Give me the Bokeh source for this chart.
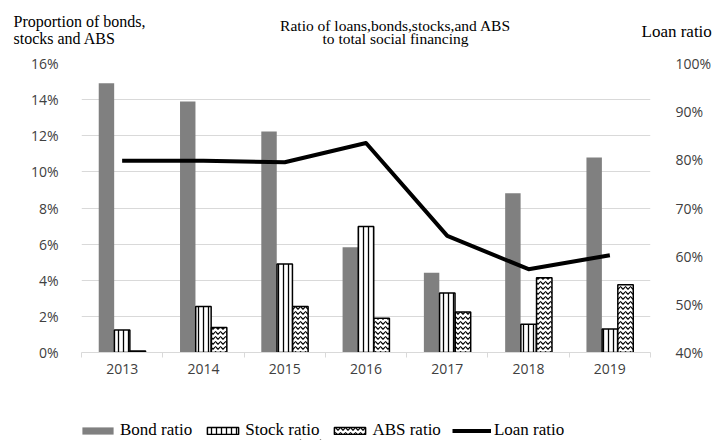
from bokeh.plotting import figure
from bokeh.layouts import column
from bokeh.models import (Range1d, LinearAxis, FixedTicker, NumeralTickFormatter,
                          Legend, LegendItem, Label, ColumnDataSource)
from bokeh.embed import file_html
from bokeh.resources import INLINE

# Shares of total social financing, by year
years = ["2013", "2014", "2015", "2016", "2017", "2018", "2019"]
bond_ratio = [0.149, 0.139, 0.1224, 0.0583, 0.0442, 0.0882, 0.1080]
stock_ratio = [0.0125, 0.0255, 0.0490, 0.0697, 0.0330, 0.0157, 0.0130]
abs_ratio = [0.0008, 0.0139, 0.0254, 0.0189, 0.0224, 0.0414, 0.0375]
loan_ratio = [0.798, 0.798, 0.795, 0.835, 0.642, 0.573, 0.602]

left_ticks = [0.0, 0.02, 0.04, 0.06, 0.08, 0.10, 0.12, 0.14, 0.16]
right_ticks = [0.4, 0.5, 0.6, 0.7, 0.8, 0.9, 1.0]

GRID = "#d9d9d9"
TICK_TEXT = "#404040"
SERIF = "Liberation Serif"
SANS = "Open Sans"

W = 714
H_HEAD, H_MAIN, H_LEGEND = 50, 360, 30

BOND_STYLE = dict(fill_color="#808080", line_color=None)
STOCK_STYLE = dict(fill_color="white", line_color="black", line_width=1.5,
                   hatch_pattern="vertical_line", hatch_color="black",
                   hatch_scale=5, hatch_weight=1.3)
ABS_STYLE = dict(fill_color="white", line_color="black", line_width=1.5,
                 hatch_pattern="horizontal_wave", hatch_color="black",
                 hatch_scale=5, hatch_weight=1.2)
LOAN_STYLE = dict(line_color="black", line_width=4, line_join="round")


def strip(height, y_range):
    """A bare figure whose frame fills its whole canvas."""
    f = figure(width=W, height=height, output_backend="svg", toolbar_location=None,
               x_range=Range1d(0, W), y_range=y_range,
               x_axis_location=None, y_axis_location=None,
               min_border_left=0, min_border_right=0, min_border_top=0,
               min_border_bottom=0, outline_line_color=None, frame_align=False)
    f.xgrid.visible = False
    f.ygrid.visible = False
    return f


# ---- headings ----
head = strip(H_HEAD, Range1d(H_HEAD, 0))


def heading(text, x, y_base, align="left", size="16px"):
    head.add_layout(Label(x=x, y=y_base, text=text, text_align=align,
                          text_baseline="alphabetic", text_font=SERIF,
                          text_font_size=size, text_color="black"))


heading("Proportion of bonds,", 13, 21)
heading("stocks and ABS", 13, 38)
heading("Ratio of loans,bonds,stocks,and ABS", 395, 25, align="center", size="15.5px")
heading("to total social financing", 395, 38, align="center", size="15.5px")
heading("Loan ratio", 641, 31, size="17px")

# ---- main chart ----
centers = [i + 0.5 for i in range(len(years))]
bar_w = 0.19
shift = 0.193

src = ColumnDataSource(dict(
    x=centers, bond=bond_ratio, stock=stock_ratio, abs=abs_ratio, loan=loan_ratio,
    xb=[c - shift for c in centers], xa=[c + shift for c in centers],
))

p = figure(width=W, height=H_MAIN, output_backend="svg", toolbar_location=None,
           x_range=Range1d(0, len(years)), y_range=Range1d(0, 0.16),
           min_border_left=81, min_border_right=63, min_border_top=13,
           min_border_bottom=58, outline_line_color=None, frame_align=False)
p.extra_y_ranges = {"loan": Range1d(0.4, 1.0)}

p.vbar(x="xb", top="bond", width=bar_w, source=src, **BOND_STYLE)
p.vbar(x="x", top="stock", width=bar_w, source=src, **STOCK_STYLE)
p.vbar(x="xa", top="abs", width=bar_w, source=src, **ABS_STYLE)
p.line(x="x", y="loan", source=src, y_range_name="loan", **LOAN_STYLE)

# x axis: year labels at centers, tick marks at the category boundaries
xa = p.xaxis[0]
xa.ticker = FixedTicker(ticks=centers, minor_ticks=list(range(len(years) + 1)))
xa.major_label_overrides = {c: y for c, y in zip(centers, years)}
xa.major_tick_in = 0
xa.major_tick_out = 0
xa.minor_tick_in = 0
xa.minor_tick_out = 5
xa.minor_tick_line_color = GRID
xa.axis_line_color = GRID
xa.major_label_standoff = 6
xa.major_label_text_font = SANS
xa.major_label_text_font_size = "14px"
xa.major_label_text_color = TICK_TEXT

# left axis
ya = p.yaxis[0]
ya.ticker = FixedTicker(ticks=left_ticks)
ya.formatter = NumeralTickFormatter(format="0%")
ya.axis_line_color = None
ya.major_tick_line_color = None
ya.minor_tick_line_color = None
ya.major_label_standoff = 17
ya.major_label_text_font = SANS
ya.major_label_text_font_size = "14px"
ya.major_label_text_color = TICK_TEXT

# right axis for the loan ratio
ra = LinearAxis(y_range_name="loan", ticker=FixedTicker(ticks=right_ticks),
                formatter=NumeralTickFormatter(format="0%"))
ra.axis_line_color = None
ra.major_tick_line_color = None
ra.minor_tick_line_color = None
ra.major_label_standoff = 19
ra.major_label_text_font = SANS
ra.major_label_text_font_size = "14px"
ra.major_label_text_color = TICK_TEXT
p.add_layout(ra, "right")

p.xgrid.visible = False
p.ygrid.grid_line_color = GRID
p.ygrid.grid_line_width = 1
p.ygrid.ticker = FixedTicker(ticks=left_ticks)

# ---- legend strip; its stand-in renderers sit below the frame, so only
#      their legend swatches show ----
lg = strip(H_LEGEND, Range1d(0, 1))
stand_in = ColumnDataSource(dict(x=[300, 320], y=[-5, -5]))
k_bond = lg.vbar(x="x", top="y", bottom=-6, width=1, source=stand_in, **BOND_STYLE)
k_stock = lg.vbar(x="x", top="y", bottom=-6, width=1, source=stand_in, **STOCK_STYLE)
k_abs = lg.vbar(x="x", top="y", bottom=-6, width=1, source=stand_in, **ABS_STYLE)
k_loan = lg.line(x="x", y="y", source=stand_in, **LOAN_STYLE)

legend = Legend(items=[
    LegendItem(label="Bond ratio", renderers=[k_bond]),
    LegendItem(label="Stock ratio", renderers=[k_stock]),
    LegendItem(label="ABS ratio", renderers=[k_abs]),
    LegendItem(label="Loan ratio", renderers=[k_loan]),
], orientation="horizontal", location=(78, 0), glyph_width=39, glyph_height=9,
    label_standoff=3, spacing=11, padding=0, margin=0,
    border_line_color=None, background_fill_alpha=0,
    label_text_font=SERIF, label_text_font_size="17px", label_text_color="black")
lg.add_layout(legend, "center")

open("out.html", "w").write(file_html(column(head, p, lg, spacing=0), INLINE))
